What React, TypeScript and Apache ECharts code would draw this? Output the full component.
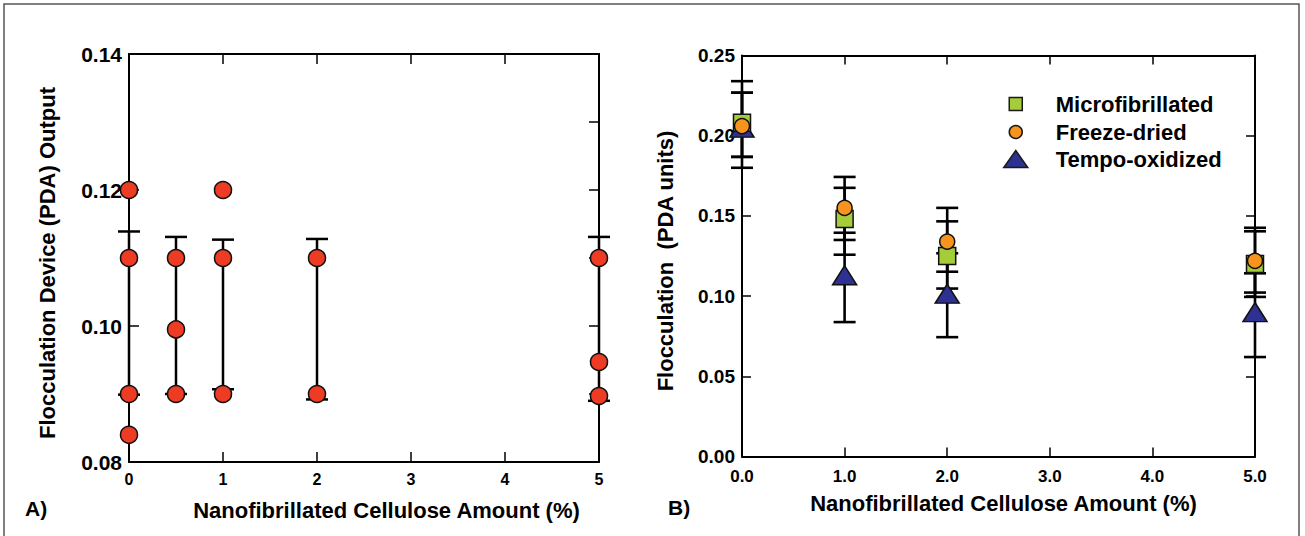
import React, { useEffect, useRef } from 'react';
import * as echarts from 'echarts';

const FONT = '"Liberation Sans", Arial, Helvetica, sans-serif';

// ---------- Panel A data ----------
const aPointX = [0, 0, 0, 0, 0.5, 0.5, 0.5, 1, 1, 1, 2, 2, 5, 5, 5];
const aPointY = [0.120, 0.110, 0.090, 0.084, 0.110, 0.0995, 0.090, 0.120, 0.110, 0.090, 0.110, 0.090, 0.110, 0.0947, 0.0897];
const aErrX = [0, 0.5, 1, 2, 5];
const aErrLow = [0.0899, 0.0900, 0.0907, 0.0892, 0.0890];
const aErrHigh = [0.1139, 0.1131, 0.1127, 0.1128, 0.1131];
const aXTicks = { min: 0, max: 5, interval: 1 };
const aYTicks = { min: 0.08, max: 0.14, interval: 0.02 };

// ---------- Panel B data ----------
const bX = [0, 1, 2, 5];
const microMean = [0.208, 0.148, 0.125, 0.120];
const microLow = [0.180, 0.1258, 0.1047, 0.0995];
const microHigh = [0.234, 0.1675, 0.1466, 0.1404];
const freezeMean = [0.206, 0.155, 0.134, 0.122];
const freezeLow = [0.1868, 0.135, 0.1152, 0.1022];
const freezeHigh = [0.2268, 0.1743, 0.155, 0.1426];
const tempoMean = [0.205, 0.113, 0.1015, 0.090];
const tempoLow = [0.1868, 0.0838, 0.0744, 0.062];
const tempoHigh = [0.2268, 0.1395, 0.1267, 0.1142];
const bXTicks = { min: 0, max: 5, interval: 1 };
const bYTicks = { min: 0, max: 0.25, interval: 0.05 };

const xTitle = 'Nanofibrillated Cellulose Amount (%)';
const aYTitle = 'Flocculation Device (PDA) Output';
const bYTitle = 'Flocculation  (PDA units)';
const seriesNames = ['Microfibrillated', 'Freeze-dried', 'Tempo-oxidized'];

const BLACK = '#000';
const axisLine = { show: true, onZero: false, lineStyle: { color: BLACK, width: 2 } };
const tick = (len: number) => ({ show: true, inside: true, length: len, lineStyle: { color: BLACK, width: 1.5 } });

function errRender(cap: number, width: number) {
  return (params: any, api: any) => {
    const x = api.value(0);
    const lo = api.coord([x, api.value(1)]);
    const hi = api.coord([x, api.value(2)]);
    const style = { stroke: BLACK, lineWidth: width, fill: 'none' };
    return {
      type: 'group',
      children: [
        { type: 'line', shape: { x1: lo[0], y1: lo[1], x2: hi[0], y2: hi[1] }, style },
        { type: 'line', shape: { x1: hi[0] - cap, y1: hi[1], x2: hi[0] + cap, y2: hi[1] }, style },
        { type: 'line', shape: { x1: lo[0] - cap, y1: lo[1], x2: lo[0] + cap, y2: lo[1] }, style },
      ],
    };
  };
}

export default function App() {
  const ref = useRef<HTMLDivElement>(null);
  useEffect(() => {
    if (!ref.current) return;
    const chart = echarts.init(ref.current, undefined, { renderer: 'svg' });

    const legendText = {
      fontSize: 22,
      fontWeight: 'bold',
      color: BLACK,
      fontFamily: FONT,
      padding: [0, 0, 0, 23],
    };
    const legendItemStyle = { borderColor: '#1a1a1a', borderWidth: 1.5 };

    const option: any = {
      animation: false,
      backgroundColor: '#fff',
      textStyle: { fontFamily: FONT },
      graphic: [
        {
          type: 'rect',
          shape: { x: 4, y: 4, width: 1295, height: 545 },
          style: { fill: 'none', stroke: '#555', lineWidth: 1.5 },
          silent: true,
          z: -10,
        },
        {
          type: 'text',
          left: 25,
          top: 498,
          style: { text: 'A)', font: `bold 21px ${FONT}`, fill: BLACK },
        },
        {
          type: 'text',
          left: 668,
          top: 497,
          style: { text: 'B)', font: `bold 21px ${FONT}`, fill: BLACK },
        },
      ],
      grid: [
        { left: 129, top: 54, width: 470, height: 408 },
        { left: 742, top: 55.5, width: 513, height: 401 },
      ],
      legend: [
        {
          data: [seriesNames[0]], left: 1008.5, top: 93, padding: 0, itemWidth: 24, itemHeight: 13,
          icon: 'path://M0,0H10V10H0Z', selectedMode: false, textStyle: legendText, itemStyle: legendItemStyle,
        },
        {
          data: [seriesNames[1]], left: 1008.5, top: 121, padding: 0, itemWidth: 24, itemHeight: 13,
          icon: 'circle', selectedMode: false, textStyle: legendText, itemStyle: legendItemStyle,
        },
        {
          data: [seriesNames[2]], left: 1003, top: 148, padding: 0, itemWidth: 24, itemHeight: 17,
          icon: 'path://M12,0L24,17L0,17Z', selectedMode: false, textStyle: legendText, itemStyle: legendItemStyle,
        },
      ],
      xAxis: [
        {
          gridIndex: 0, type: 'value', ...aXTicks, position: 'bottom',
          axisLine, axisTick: tick(10), splitLine: { show: false },
          axisLabel: { margin: 9, fontSize: 16, fontWeight: 'bold', color: BLACK, fontFamily: FONT, formatter: (v: number) => String(v) },
          name: xTitle, nameLocation: 'middle', nameGap: 37,
          nameTextStyle: { fontSize: 22, fontWeight: 'bold', color: BLACK, fontFamily: FONT, padding: [0, 0, 0, 45] },
        },
        {
          gridIndex: 0, type: 'value', ...aXTicks, position: 'top',
          axisLine, axisTick: tick(10), splitLine: { show: false }, axisLabel: { show: false },
        },
        {
          gridIndex: 1, type: 'value', ...bXTicks, position: 'bottom',
          axisLine, axisTick: tick(9), splitLine: { show: false },
          axisLabel: { margin: 11, fontSize: 17, fontWeight: 'bold', color: BLACK, fontFamily: FONT, formatter: (v: number) => v.toFixed(1) },
          name: xTitle, nameLocation: 'middle', nameGap: 36,
          nameTextStyle: { fontSize: 22, fontWeight: 'bold', color: BLACK, fontFamily: FONT, padding: [0, 0, 0, 10] },
        },
        {
          gridIndex: 1, type: 'value', ...bXTicks, position: 'top',
          axisLine, axisTick: tick(9), splitLine: { show: false }, axisLabel: { show: false },
        },
      ],
      yAxis: [
        {
          gridIndex: 0, type: 'value', ...aYTicks, position: 'left',
          axisLine, axisTick: tick(10), splitLine: { show: false },
          axisLabel: { margin: 7, fontSize: 21, fontWeight: 'bold', color: BLACK, fontFamily: FONT, formatter: (v: number) => v.toFixed(2) },
          name: aYTitle, nameLocation: 'middle', nameGap: 71,
          nameTextStyle: { fontSize: 22, fontWeight: 'bold', color: BLACK, fontFamily: FONT, padding: [0, 10, 0, 0] },
        },
        {
          gridIndex: 0, type: 'value', ...aYTicks, position: 'right',
          axisLine, axisTick: tick(10), splitLine: { show: false }, axisLabel: { show: false },
          minorTick: { show: true, splitNumber: 2, length: 10, lineStyle: { color: BLACK, width: 1.5 } },
        },
        {
          gridIndex: 1, type: 'value', ...bYTicks, position: 'left',
          axisLine, axisTick: tick(9), splitLine: { show: false },
          axisLabel: { margin: 7, fontSize: 19, fontWeight: 'bold', color: BLACK, fontFamily: FONT, formatter: (v: number) => v.toFixed(2) },
          name: bYTitle, nameLocation: 'middle', nameGap: 66,
          nameTextStyle: { fontSize: 22, fontWeight: 'bold', color: BLACK, fontFamily: FONT, padding: [0, 10, 0, 0] },
        },
        {
          gridIndex: 1, type: 'value', ...bYTicks, position: 'right',
          axisLine, axisTick: tick(9), splitLine: { show: false }, axisLabel: { show: false },
        },
      ],
      series: [
        {
          type: 'custom', name: 'A error', xAxisIndex: 0, yAxisIndex: 0, z: 1, clip: false,
          encode: { x: 0, y: [1, 2] },
          data: aErrX.map((x, i) => [x, aErrLow[i], aErrHigh[i]]),
          renderItem: errRender(11, 2.5),
        },
        {
          type: 'scatter', name: 'A points', xAxisIndex: 0, yAxisIndex: 0, z: 3, clip: false,
          symbol: 'circle', symbolSize: 17,
          itemStyle: { color: '#EE3B24', borderColor: '#111', borderWidth: 1.5, opacity: 1 },
          data: aPointX.map((x, i) => [x, aPointY[i]]),
        },
        {
          type: 'custom', name: 'B error', xAxisIndex: 2, yAxisIndex: 2, z: 1, clip: false,
          encode: { x: 0, y: [1, 2] },
          data: [
            ...bX.map((x, i) => [x, microLow[i], microHigh[i]]),
            ...bX.map((x, i) => [x, freezeLow[i], freezeHigh[i]]),
            ...bX.map((x, i) => [x, tempoLow[i], tempoHigh[i]]),
          ],
          renderItem: errRender(11, 2.6),
        },
        {
          type: 'scatter', name: seriesNames[2], xAxisIndex: 2, yAxisIndex: 2, z: 3, clip: false,
          symbol: 'triangle', symbolSize: [24, 19],
          itemStyle: { color: '#2E3192', borderColor: '#111', borderWidth: 1.5, opacity: 1 },
          data: bX.map((x, i) => [x, tempoMean[i]]),
        },
        {
          type: 'scatter', name: seriesNames[0], xAxisIndex: 2, yAxisIndex: 2, z: 4, clip: false,
          symbol: 'rect', symbolSize: 17,
          itemStyle: { color: '#A5CD39', borderColor: '#111', borderWidth: 1.5, opacity: 1 },
          data: bX.map((x, i) => [x, microMean[i]]),
        },
        {
          type: 'scatter', name: seriesNames[1], xAxisIndex: 2, yAxisIndex: 2, z: 5, clip: false,
          symbol: 'circle', symbolSize: 15,
          itemStyle: { color: '#F7941D', borderColor: '#111', borderWidth: 1.5, opacity: 1 },
          data: bX.map((x, i) => [x, freezeMean[i]]),
        },
      ],
    };
    chart.setOption(option);
    return () => chart.dispose();
  }, []);

  return (
    <div
      ref={ref}
      style={{ position: 'absolute', left: 0, top: 0, width: 1305, height: 536, background: '#fff' }}
    />
  );
}
